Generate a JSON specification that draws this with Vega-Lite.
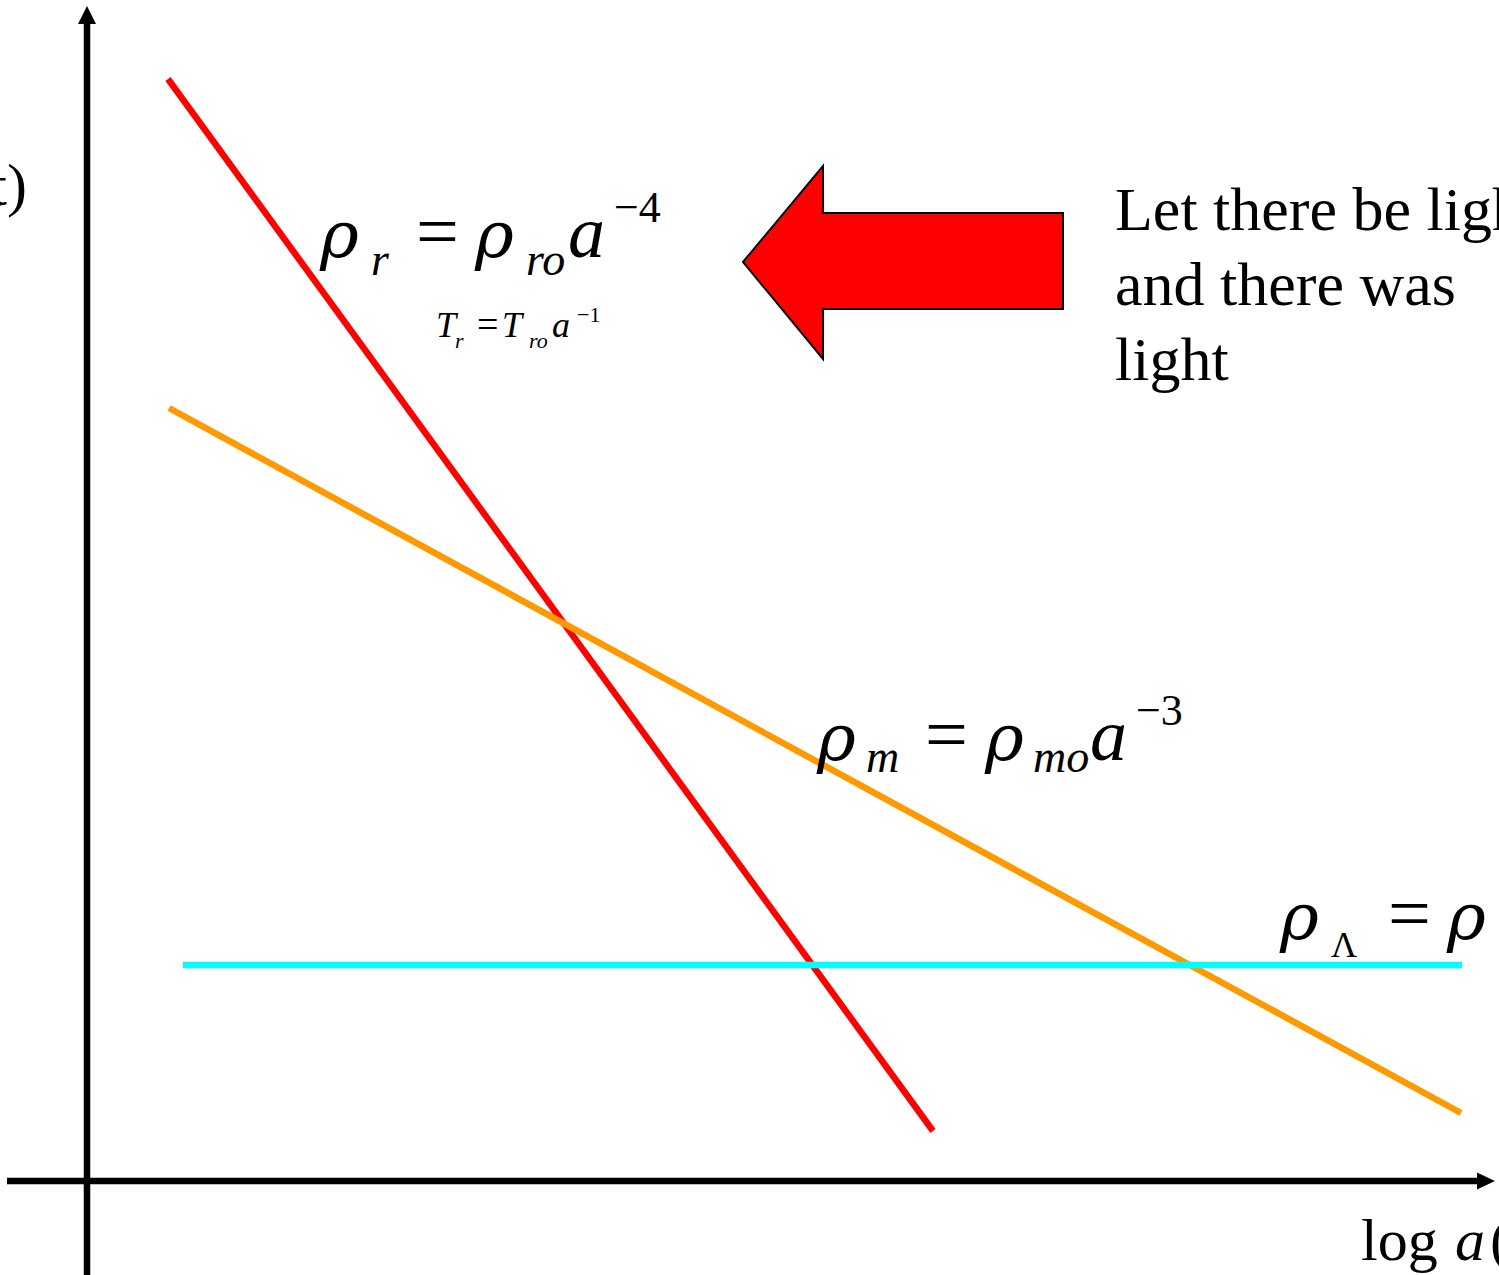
{
  "$schema": "https://vega.github.io/schema/vega-lite/v6.json",
  "width": 1499,
  "height": 1275,
  "autosize": {"type": "none"},
  "padding": 0,
  "background": "white",
  "view": {"stroke": null},
  "config": {"text": {"font": "Liberation Serif", "baseline": "alphabetic", "align": "left", "color": "black"}},
  "datasets": {
    "lines": [
      {"s": "xaxis", "x": -8.0, "y": 0},
      {"s": "xaxis", "x": 139.2, "y": 0},
      {"s": "yaxis", "x": 0, "y": -9.5},
      {"s": "yaxis", "x": 0, "y": 115.9},
      {"s": "radiation", "x": 8.1, "y": 110.2},
      {"s": "radiation", "x": 84.6, "y": 5.0},
      {"s": "matter", "x": 8.2, "y": 77.3},
      {"s": "matter", "x": 137.4, "y": 6.8},
      {"s": "lambda", "x": 9.6, "y": 21.6},
      {"s": "lambda", "x": 137.5, "y": 21.6}
    ],
    "xhead": [
      {"x": 139.0, "y": 0.85, "y2": -0.85},
      {"x": 140.8, "y": 0, "y2": 0}
    ],
    "yhead": [
      {"y": 115.7, "x": -0.9, "x2": 0.9},
      {"y": 117.5, "x": 0, "x2": 0}
    ],
    "bigArrow": [
      {"x": 65.6, "y": 91.9, "y2": 91.9},
      {"x": 73.6, "y": 101.5, "y2": 82.2},
      {"x": 73.61, "y": 96.8, "y2": 87.2},
      {"x": 97.6, "y": 96.8, "y2": 87.2}
    ],
    "rho": [
      {"t": "ρ", "x": 23.3, "y": 92.4},
      {"t": "ρ", "x": 38.8, "y": 92.4},
      {"t": "ρ", "x": 73.0, "y": 42.1},
      {"t": "ρ", "x": 89.8, "y": 42.1},
      {"t": "ρ", "x": 119.3, "y": 24.2},
      {"t": "ρ", "x": 136.0, "y": 24.2}
    ],
    "bigItalic": [
      {"t": "a", "x": 48.1, "y": 92.4},
      {"t": "a", "x": 100.3, "y": 42.1}
    ],
    "bigEq": [
      {"t": "=", "x": 32.9, "y": 92.4},
      {"t": "=", "x": 83.8, "y": 42.1},
      {"t": "=", "x": 130.1, "y": 24.2}
    ],
    "subItalic": [
      {"t": "r", "x": 28.4, "y": 90.6},
      {"t": "ro", "x": 43.9, "y": 90.6},
      {"t": "m", "x": 77.9, "y": 40.9},
      {"t": "mo", "x": 94.6, "y": 40.9}
    ],
    "lamSub": [
      {"t": "Λ", "x": 124.4, "y": 22.4}
    ],
    "supBig": [
      {"t": "−4", "x": 52.7, "y": 95.9},
      {"t": "−3", "x": 104.9, "y": 45.6}
    ],
    "smallItalic": [
      {"t": "T", "x": 34.9, "y": 84.4},
      {"t": "T", "x": 41.5, "y": 84.4},
      {"t": "a", "x": 46.5, "y": 84.4}
    ],
    "smallEq": [
      {"t": "=", "x": 39.0, "y": 84.4}
    ],
    "smallSub": [
      {"t": "r", "x": 36.8, "y": 83.3},
      {"t": "ro", "x": 44.2, "y": 83.3}
    ],
    "smallSup": [
      {"t": "−1", "x": 49.0, "y": 85.9}
    ],
    "prose": [
      {"t": "Let there be light", "x": 102.8, "y": 95.1},
      {"t": "and there was", "x": 102.8, "y": 87.6},
      {"t": "light", "x": 102.8, "y": 80.1}
    ],
    "axisUpright": [
      {"t": "log ", "x": 127.4, "y": -7.9},
      {"t": "(t)", "x": 140.3, "y": -7.9}
    ],
    "axisItalic": [
      {"t": "a", "x": 136.8, "y": -7.9}
    ],
    "yLabel": [
      {"t": "log ρ(t)", "x": -6.0, "y": 97.6}
    ]
  },
  "encoding": {
    "x": {"field": "x", "type": "quantitative", "scale": {"domain": [-8.7, 141.2], "nice": false, "zero": false}, "axis": null},
    "y": {"field": "y", "type": "quantitative", "scale": {"domain": [-9.4, 118.1], "nice": false, "zero": false}, "axis": null}
  },
  "layer": [
    {
      "data": {"name": "lines"},
      "mark": {"type": "line", "strokeWidth": 6.5},
      "encoding": {
        "color": {"field": "s", "type": "nominal", "legend": null,
          "scale": {"domain": ["xaxis", "yaxis", "radiation", "matter", "lambda"], "range": ["#000000", "#000000", "#ff0000", "#ff9900", "#00ffff"]}}
      }
    },
    {
      "data": {"name": "xhead"},
      "mark": {"type": "area", "orient": "vertical", "color": "black"},
      "encoding": {"y2": {"field": "y2"}}
    },
    {
      "data": {"name": "yhead"},
      "mark": {"type": "area", "orient": "horizontal", "color": "black"},
      "encoding": {"x2": {"field": "x2"}}
    },
    {
      "data": {"name": "bigArrow"},
      "mark": {"type": "area", "orient": "vertical", "fill": "#ff0000", "fillOpacity": 1, "stroke": "black", "strokeWidth": 2},
      "encoding": {"y2": {"field": "y2"}}
    },
    {
      "data": {"name": "rho"},
      "mark": {"type": "text", "font": "DejaVu Serif", "fontSize": 66, "fontStyle": "italic"},
      "encoding": {"text": {"field": "t"}}
    },
    {
      "data": {"name": "bigItalic"},
      "mark": {"type": "text", "fontSize": 74, "fontStyle": "italic"},
      "encoding": {"text": {"field": "t"}}
    },
    {
      "data": {"name": "bigEq"},
      "mark": {"type": "text", "fontSize": 76},
      "encoding": {"text": {"field": "t"}}
    },
    {
      "data": {"name": "subItalic"},
      "mark": {"type": "text", "fontSize": 46, "fontStyle": "italic"},
      "encoding": {"text": {"field": "t"}}
    },
    {
      "data": {"name": "lamSub"},
      "mark": {"type": "text", "fontSize": 36},
      "encoding": {"text": {"field": "t"}}
    },
    {
      "data": {"name": "supBig"},
      "mark": {"type": "text", "fontSize": 44},
      "encoding": {"text": {"field": "t"}}
    },
    {
      "data": {"name": "smallItalic"},
      "mark": {"type": "text", "fontSize": 36, "fontStyle": "italic"},
      "encoding": {"text": {"field": "t"}}
    },
    {
      "data": {"name": "smallEq"},
      "mark": {"type": "text", "fontSize": 38},
      "encoding": {"text": {"field": "t"}}
    },
    {
      "data": {"name": "smallSub"},
      "mark": {"type": "text", "fontSize": 22, "fontStyle": "italic"},
      "encoding": {"text": {"field": "t"}}
    },
    {
      "data": {"name": "smallSup"},
      "mark": {"type": "text", "fontSize": 22},
      "encoding": {"text": {"field": "t"}}
    },
    {
      "data": {"name": "prose"},
      "mark": {"type": "text", "fontSize": 62},
      "encoding": {"text": {"field": "t"}}
    },
    {
      "data": {"name": "axisUpright"},
      "mark": {"type": "text", "fontSize": 60},
      "encoding": {"text": {"field": "t"}}
    },
    {
      "data": {"name": "axisItalic"},
      "mark": {"type": "text", "fontSize": 60, "fontStyle": "italic"},
      "encoding": {"text": {"field": "t"}}
    },
    {
      "data": {"name": "yLabel"},
      "mark": {"type": "text", "fontSize": 60, "align": "right"},
      "encoding": {"text": {"field": "t"}}
    }
  ]
}
